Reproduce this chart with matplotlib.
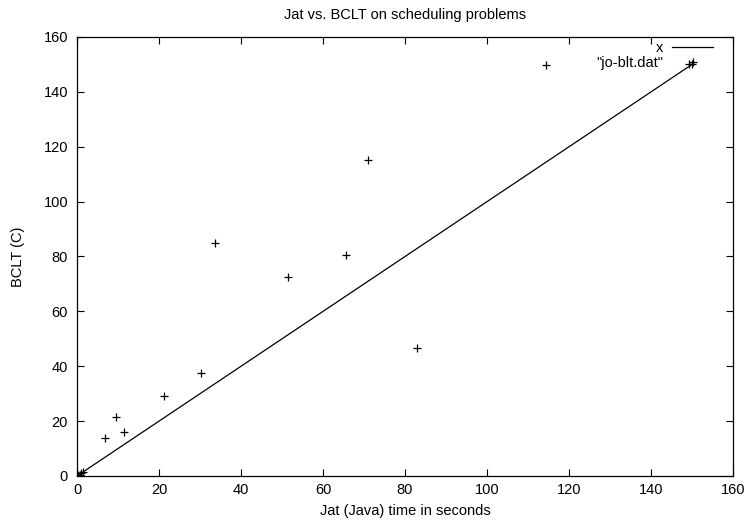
import matplotlib.pyplot as plt

plt.rcParams['font.family'] = ['Liberation Sans', 'DejaVu Sans']

# Jat (Java) times vs BCLT (C) times
jat = [0, 0.3, 0.6, 1.0, 1.5, 6.8, 9.4, 11.4, 21.3, 30.3, 33.7, 51.5,
       65.5, 70.9, 83.0, 114.5, 149.3, 150.0]
bclt = [0, 0.5, 0.2, 1.0, 1.5, 13.8, 21.5, 16.0, 29.0, 37.7, 85.0, 72.6,
        80.6, 115.0, 46.5, 149.7, 150.0, 150.0]

line_x = [0, 150]
xticks = [0, 20, 40, 60, 80, 100, 120, 140, 160]
yticks = [0, 20, 40, 60, 80, 100, 120, 140, 160]

fs = 10.5

fig = plt.figure(figsize=(7.48, 5.21), dpi=100)
ax = fig.add_axes([0.103, 0.0864, 0.877, 0.8426])

ax.plot(line_x, line_x, color='black', lw=0.9, label='x')
ax.plot(jat, bclt, ls='none', marker='+', ms=6, mew=0.9, color='black',
        label='"jo-blt.dat"')

ax.set_xlim(0, 160)
ax.set_ylim(0, 160)
ax.set_xticks(xticks)
ax.set_yticks(yticks)
ax.tick_params(direction='in', length=5, width=0.8, top=True, right=True,
               labelsize=fs)
ax.tick_params(axis='x', pad=5)
ax.tick_params(axis='y', pad=6.5)
for s in ax.spines.values():
    s.set_linewidth(0.9)

ax.set_title('Jat vs. BCLT on scheduling problems', fontsize=fs, pad=13)
ax.set_xlabel('Jat (Java) time in seconds', fontsize=fs, labelpad=5)
ax.set_ylabel('BCLT (C)', fontsize=fs, labelpad=13)

leg = ax.legend(loc='upper right', bbox_to_anchor=(0.9695, 0.9916),
                frameon=False, fontsize=fs, markerfirst=False,
                handlelength=2.8, borderaxespad=0, borderpad=0,
                labelspacing=0.1, handletextpad=0.6)

fig.savefig('out.png', dpi=100)
